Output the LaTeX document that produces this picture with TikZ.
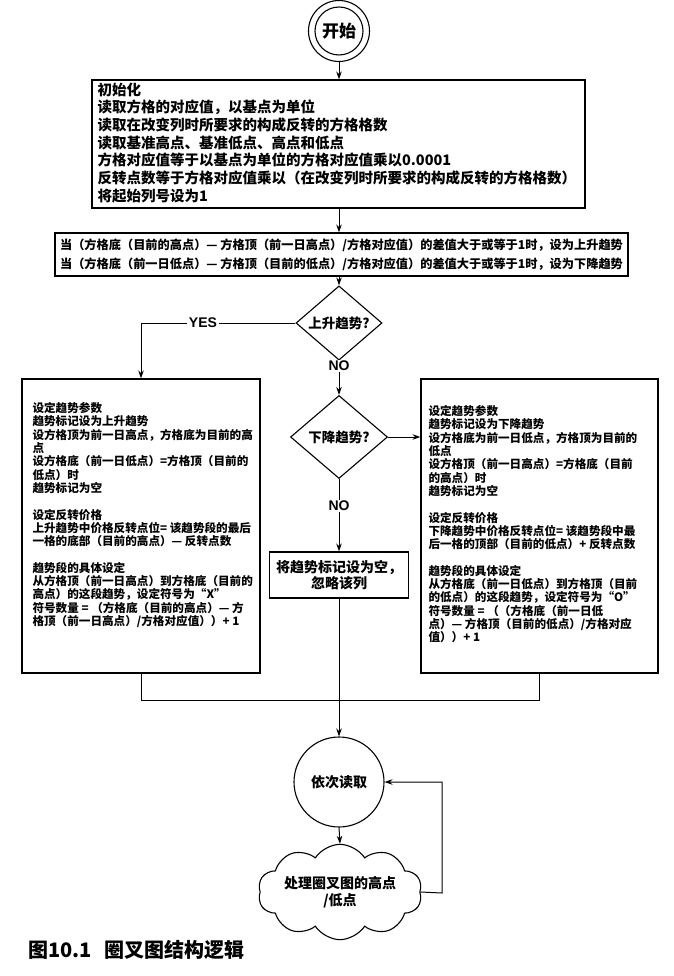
\documentclass[tikz,border=0pt]{standalone}
\usepackage{fontspec}
\setmainfont{Noto Sans CJK SC}
\newfontfamily\latfont{Liberation Sans}
\usetikzlibrary{shapes.geometric,shapes.symbols,arrows.meta}
\begin{document}
\begin{tikzpicture}[x=1pt,y=-1pt,
  line width=1pt,
  arr/.style={-{Stealth[length=8pt,width=5.5pt]}},
  boxframe/.style={draw,line width=1.2pt,rectangle,inner sep=0pt},
  bodytext/.style={inner sep=0pt,anchor=north west,align=left,font=\bfseries\fontsize{11.6pt}{13.3pt}\selectfont},
  decision/.style={draw,line width=1.1pt,diamond,inner sep=0pt,font=\bfseries\fontsize{13.5pt}{15pt}\selectfont},
  lab/.style={fill=white,inner sep=1.5pt,font=\latfont\bfseries\fontsize{14pt}{16pt}\selectfont}]
\useasboundingbox (0,0) rectangle (673,976);

% start
\node[circle,draw,line width=1.1pt,minimum size=61pt,inner sep=0pt] (start) at (339,31) {};
\node[circle,draw,line width=1.1pt,minimum size=48pt,inner sep=0pt,font=\bfseries\fontsize{17pt}{19pt}\selectfont] (startin) at (339,31) {开始};

% init box
\node[boxframe,minimum width=493pt,minimum height=128pt] (init) at (338.5,144) {};
\node[bodytext,font=\bfseries\fontsize{14.5pt}{17.7pt}\selectfont] (inittext) at (97,82) {初始化\\
读取方格的对应值，以基点为单位\\
读取在改变列时所要求的构成反转的方格格数\\
读取基准高点、基准低点、高点和低点\\
方格对应值等于以基点为单位的方格对应值乘以0.0001\\
反转点数等于方格对应值乘以（在改变列时所要求的构成反转的方格格数）\\
将起始列号设为1};

% condition box
\node[boxframe,minimum width=573pt,minimum height=43pt] (cond) at (341.5,254.5) {};
\node[inner sep=0pt,align=center,font=\bfseries\fontsize{12.2pt}{19pt}\selectfont] (condtext) at (341.5,255) {当（方格底（目前的高点）— 方格顶（前一日高点）/方格对应值）的差值大于或等于1时，设为上升趋势\\
当（方格底（前一日低点）— 方格顶（目前的低点）/方格对应值）的差值大于或等于1时，设为下降趋势};

% decisions
\node[decision,minimum width=86pt,minimum height=52pt] (d1) at (339,323) {上升趋势?};
\node[decision,minimum width=97pt,minimum height=83pt] (d2) at (339,437) {下降趋势?};

% left box
\node[boxframe,minimum width=238pt,minimum height=294pt] (lbox) at (141,526) {};
\node[bodytext] (ltext) at (32,402) {设定趋势参数\\
趋势标记设为上升趋势\\
设方格顶为前一日高点，方格底为目前的高\\
点\\
设方格底（前一日低点）=方格顶（目前的\\
低点）时\\
趋势标记为空\\[13.3pt]
设定反转价格\\
上升趋势中价格反转点位= 该趋势段的最后\\
一格的底部（目前的高点）— 反转点数\\[13.3pt]
趋势段的具体设定\\
从方格顶（前一日高点）到方格底（目前的\\
高点）的这段趋势，设定符号为“X”\\
符号数量 = （方格底（目前的高点）— 方\\
格顶（前一日高点）/方格对应值））+ 1};

% right box
\node[boxframe,minimum width=237pt,minimum height=294pt] (rbox) at (539.5,526) {};
\node[bodytext] (rtext) at (428,405) {设定趋势参数\\
趋势标记设为下降趋势\\
设方格底为前一日低点，方格顶为目前的\\
低点\\
设方格顶（前一日高点）=方格底（目前\\
的高点）时\\
趋势标记为空\\[13.3pt]
设定反转价格\\
下降趋势中价格反转点位= 该趋势段中最\\
后一格的顶部（目前的低点）+ 反转点数\\[13.3pt]
趋势段的具体设定\\
从方格底（前一日低点）到方格顶（目前\\
的低点）的这段趋势，设定符号为“O”\\
符号数量 = （（方格底（前一日低\\
点）— 方格顶（目前的低点）/方格对应\\
值））+ 1};

% ignore box
\node[boxframe,minimum width=139pt,minimum height=46pt,align=center,font=\bfseries\fontsize{14pt}{16.5pt}\selectfont] (ign) at (339,575) {将趋势标记设为空，\\忽略该列};

% read circle and cloud
\node[circle,draw,line width=1.1pt,minimum size=90pt,inner sep=0pt,font=\bfseries\fontsize{14pt}{16pt}\selectfont] (read) at (339,782) {依次读取};
\node[cloud,draw,line width=1.1pt,cloud puffs=10,cloud puff arc=115,aspect=2.2,minimum width=164pt,minimum height=80pt,inner sep=0pt,align=center,font=\bfseries\fontsize{14pt}{16.5pt}\selectfont] (cloud) at (340,892) {处理圈叉图的高点\\/低点};

\coordinate (join) at (141,700);
\coordinate (fb) at (442,893);

% connectors
\draw[arr] (start.south) -- (start |- init.north);
\draw[arr] (init.south -| start) -- (cond.north -| start);
\draw[arr] (cond.south -| start) -- (d1.north);
\draw[arr] (d1.west) -- (d1.west -| lbox) -- (lbox.north);
\node[lab] (yes) at (203,323) {YES};
\draw[arr] (d1.south) -- (d2.north);
\node[lab] (no1) at (339,366) {NO};
\draw[arr] (d2.east) -- (d2.east -| rbox.west);
\draw[arr] (d2.south) -- (ign.north);
\node[lab] (no2) at (339,506) {NO};
\draw (lbox.south) -- (lbox.south |- join) -- (rbox.south |- join) -- (rbox.south);
\draw[arr] (ign.south) -- (read.north);
\draw[arr] (read.south) -- (cloud.north);
\draw[arr] (cloud.east) -- (fb) -- (fb |- read.east) -- (read.east);

% caption
\node[anchor=west,inner sep=0pt,font=\bfseries\fontsize{20pt}{22pt}\selectfont] (caption) at (28,950) {图10.1\hspace{0.6em}圈叉图结构逻辑};
\end{tikzpicture}
\end{document}
